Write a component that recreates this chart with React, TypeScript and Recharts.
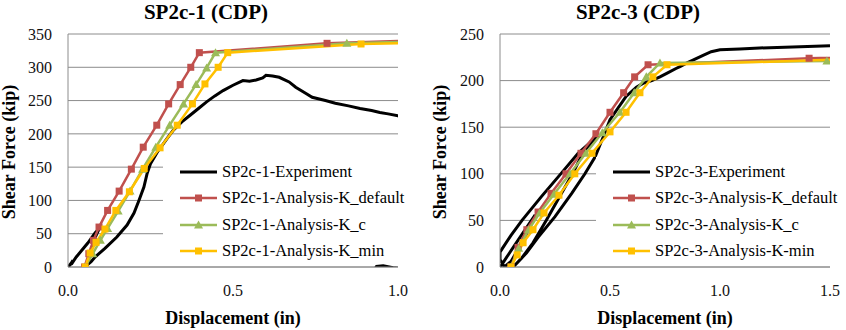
import React from 'react';
import { LineChart, Line, XAxis, YAxis, CartesianGrid, Legend } from 'recharts';

type Pt = [number, number];

// SP2c-1 : [displacement (in), shear force (kip)]
const sp2c1Experiment: Pt[] = [
  [0, 0], [0.01, 6], [0.005, 2], [0.015, 10], [0.01, 4], [0.025, 15], [0.04, 24], [0.06, 36],
  [0.082, 51], [0.095, 58], [0.08, 42], [0.068, 20], [0.058, 3], [0.07, 8], [0.082, 15],
  [0.112, 28], [0.148, 45], [0.179, 63], [0.2, 81], [0.215, 100], [0.23, 120], [0.24, 141],
  [0.25, 155], [0.27, 172], [0.3, 193], [0.32, 206], [0.345, 218], [0.37, 228], [0.4, 240],
  [0.42, 248], [0.445, 257], [0.47, 265], [0.5, 273], [0.53, 280], [0.55, 279], [0.57, 281],
  [0.59, 284], [0.6, 288], [0.62, 287], [0.64, 285], [0.67, 278], [0.69, 270], [0.72, 261],
  [0.74, 255], [0.78, 250], [0.81, 246], [0.85, 242], [0.885, 238], [0.92, 235], [0.945, 232],
  [0.97, 230], [1.0, 227], [1.05, 220], [1.1, 205], [1.15, 180], [1.06, -5], [0.985, -1],
  [0.955, 2], [0.935, 1], [0.93, -3],
];
const sp2c1KDefault: Pt[] = [
  [0.05, 0], [0.063, 20], [0.077, 40], [0.094, 60], [0.12, 85], [0.155, 114], [0.192, 147],
  [0.228, 180], [0.269, 213], [0.305, 245], [0.34, 274], [0.372, 300], [0.398, 322],
  [0.785, 336], [1.17, 342],
];
const sp2c1KC: Pt[] = [
  [0.052, 0], [0.075, 20], [0.098, 40], [0.12, 58], [0.152, 84], [0.188, 114], [0.226, 147],
  [0.266, 180], [0.308, 213], [0.35, 245], [0.388, 274], [0.42, 299], [0.447, 322],
  [0.845, 336], [1.24, 341],
];
const sp2c1KMin: Pt[] = [
  [0.052, 0], [0.067, 21], [0.085, 37], [0.112, 57], [0.145, 85], [0.186, 113], [0.231, 148],
  [0.279, 179], [0.331, 213], [0.377, 245], [0.415, 275], [0.455, 300], [0.484, 322],
  [0.888, 335], [1.29, 339],
];

// SP2c-3
const sp2c3Experiment: Pt[] = [
  [0, 0], [0.015, 5], [0.04, 14], [0.08, 28], [0.12, 42], [0.16, 56], [0.13, 40], [0.09, 22],
  [0.05, 6], [0.02, 0], [0, 8], [0, 16], [0.05, 34], [0.1, 50], [0.19, 76], [0.28, 101],
  [0.355, 122], [0.417, 135], [0.44, 140], [0.38, 124], [0.33, 100], [0.27, 75], [0.21, 50],
  [0.15, 26], [0.1, 10], [0.06, 0], [0.12, 15], [0.174, 32], [0.25, 54], [0.326, 79],
  [0.386, 100], [0.432, 118], [0.47, 140], [0.5, 158], [0.573, 183], [0.62, 193], [0.65, 197],
  [0.69, 200], [0.727, 204], [0.76, 208], [0.8, 213], [0.818, 215], [0.85, 219], [0.877, 222],
  [0.923, 227], [0.96, 231], [1.0, 233], [1.09, 234], [1.18, 235], [1.33, 236], [1.5, 237.5],
];
const sp2c3KDefault: Pt[] = [
  [0.05, 0], [0.082, 21], [0.122, 40], [0.173, 59], [0.232, 79], [0.3, 100], [0.368, 122],
  [0.436, 143], [0.5, 166], [0.562, 187], [0.612, 204], [0.673, 217], [1.405, 224], [2.1, 228],
];
const sp2c3KC: Pt[] = [
  [0.05, 0], [0.085, 20], [0.13, 40], [0.18, 58], [0.245, 78], [0.318, 100], [0.39, 122],
  [0.465, 144], [0.545, 166], [0.61, 187], [0.665, 204], [0.727, 219], [1.486, 221], [2.2, 223],
];
const sp2c3KMin: Pt[] = [
  [0.05, 0], [0.078, 13], [0.105, 26], [0.15, 40], [0.2, 58], [0.268, 77], [0.34, 100],
  [0.418, 122], [0.5, 145], [0.573, 166], [0.636, 187], [0.695, 204], [0.759, 217], [1.6, 223],
];

const sp2c1Names = ['SP2c-1-Experiment', 'SP2c-1-Analysis-K_default', 'SP2c-1-Analysis-K_c', 'SP2c-1-Analysis-K_min'];
const sp2c3Names = ['SP2c-3-Experiment', 'SP2c-3-Analysis-K_default', 'SP2c-3-Analysis-K_c', 'SP2c-3-Analysis-K-min'];

const sp2c1XTicks = [0, 0.5, 1];
const sp2c1YTicks = [0, 50, 100, 150, 200, 250, 300, 350];
const sp2c3XTicks = [0, 0.5, 1, 1.5];
const sp2c3YTicks = [0, 50, 100, 150, 200, 250];

const SERIF = '"Liberation Serif", "Times New Roman", serif';
const GRID = '#8c8c8c';
const COLORS = ['#000000', '#C0504D', '#9BBB59', '#FFC000'];
const SHAPES = ['none', 'square', 'triangle', 'square'];

const toRows = (pts: Pt[]) => pts.map(([x, y]) => ({ x, y }));

function markerShape(shape: string, cx: number, cy: number, color: string, key?: string) {
  if (shape === 'square') {
    return <rect key={key} x={cx - 3.5} y={cy - 3.5} width={7} height={7} fill={color} />;
  }
  if (shape === 'triangle') {
    return (
      <polygon key={key} points={`${cx},${cy - 4.5} ${cx + 4.5},${cy + 3.5} ${cx - 4.5},${cy + 3.5}`} fill={color} />
    );
  }
  return null;
}

const dotFn = (shape: string, color: string) => (p: any) => {
  const key = `dot-${p.index}`;
  if (p.cx == null || p.cy == null) return <g key={key} />;
  return markerShape(shape, p.cx, p.cy, color, key);
};

function LegendBox({ names }: { names: string[] }) {
  return (
    <div style={{ background: '#fff', fontFamily: SERIF, fontSize: 16.5, color: '#000', paddingTop: 2 }}>
      {names.map((n, i) => (
        <div key={n} style={{ display: 'flex', alignItems: 'center', height: 26.3 }}>
          <svg width={37} height={12} style={{ marginLeft: 17, flex: 'none' }}>
            <line x1={0} y1={6} x2={37} y2={6} stroke={COLORS[i]} strokeWidth={i === 0 ? 3 : 2.5} />
            {markerShape(SHAPES[i], 18.5, 6, COLORS[i])}
          </svg>
          <span style={{ marginLeft: 5, whiteSpace: 'nowrap' }}>{n}</span>
        </div>
      ))}
    </div>
  );
}

type PanelProps = {
  series: Pt[][];
  names: string[];
  xDomain: [number, number];
  xTicks: number[];
  yDomain: [number, number];
  yTicks: number[];
  margin: { top: number; right: number; bottom: number; left: number };
  legendLeft: number;
};

function Panel({ series, names, xDomain, xTicks, yDomain, yTicks, margin, legendLeft }: PanelProps) {
  const tick = { fill: '#111', fontSize: 16, fontFamily: SERIF };
  return (
    <LineChart width={423} height={330} margin={margin}>
      <CartesianGrid vertical={false} stroke={GRID} />
      <XAxis
        type="number"
        dataKey="x"
        domain={xDomain}
        ticks={xTicks}
        interval={0}
        allowDataOverflow
        tickFormatter={(v: number) => v.toFixed(1)}
        height={40}
        tickLine={false}
        tickSize={6}
        tickMargin={12}
        axisLine={{ stroke: GRID }}
        tick={tick}
      />
      <YAxis
        type="number"
        domain={yDomain}
        ticks={yTicks}
        interval={0}
        allowDataOverflow
        width={50}
        tickLine={false}
        tickSize={6}
        tickMargin={10}
        axisLine={{ stroke: GRID }}
        tick={tick}
      />
      <Legend
        layout="vertical"
        align="center"
        verticalAlign="middle"
        content={() => <LegendBox names={names} />}
        wrapperStyle={{ left: legendLeft, top: 157, width: 423 - legendLeft, height: 105, background: '#fff' }}
      />
      {series.map((s, i) => (
        <Line
          key={names[i]}
          data={toRows(s)}
          dataKey="y"
          name={names[i]}
          type="linear"
          stroke={COLORS[i]}
          strokeWidth={i === 0 ? 3 : 2.5}
          dot={i === 0 ? false : dotFn(SHAPES[i], COLORS[i])}
          activeDot={false}
          isAnimationActive={false}
        />
      ))}
    </LineChart>
  );
}

export default function App() {
  const bold = { fontFamily: SERIF, fontWeight: 700, fill: '#000' } as const;
  return (
    <div style={{ position: 'absolute', left: 0, top: 0, width: 846, height: 330, background: '#fff', overflow: 'hidden' }}>
      <div style={{ position: 'absolute', left: 0, top: 0 }}>
        <Panel
          series={[sp2c1Experiment, sp2c1KDefault, sp2c1KC, sp2c1KMin]}
          names={sp2c1Names}
          xDomain={[0, 1]}
          xTicks={sp2c1XTicks}
          yDomain={[0, 350]}
          yTicks={sp2c1YTicks}
          margin={{ top: 34, right: 25, bottom: 23, left: 18 }}
          legendLeft={163}
        />
      </div>
      <div style={{ position: 'absolute', left: 423, top: 0 }}>
        <Panel
          series={[sp2c3Experiment, sp2c3KDefault, sp2c3KC, sp2c3KMin]}
          names={sp2c3Names}
          xDomain={[0, 1.5]}
          xTicks={sp2c3XTicks}
          yDomain={[0, 250]}
          yTicks={sp2c3YTicks}
          margin={{ top: 34, right: 16, bottom: 23, left: 27 }}
          legendLeft={173}
        />
      </div>
      <svg width={846} height={330} style={{ position: 'absolute', left: 0, top: 0, pointerEvents: 'none' }}>
        <text x={206} y={19} textAnchor="middle" fontSize={21} {...bold}>SP2c-1 (CDP)</text>
        <text x={638} y={19} textAnchor="middle" fontSize={21} {...bold}>SP2c-3 (CDP)</text>
        <text x={233} y={324} textAnchor="middle" fontSize={18} {...bold}>Displacement (in)</text>
        <text x={665} y={324} textAnchor="middle" fontSize={18} {...bold}>Displacement (in)</text>
        <text transform="translate(15,152) rotate(-90)" textAnchor="middle" fontSize={18} {...bold}>Shear Force (kip)</text>
        <text transform="translate(446,152) rotate(-90)" textAnchor="middle" fontSize={18} {...bold}>Shear Force (kip)</text>
      </svg>
    </div>
  );
}
